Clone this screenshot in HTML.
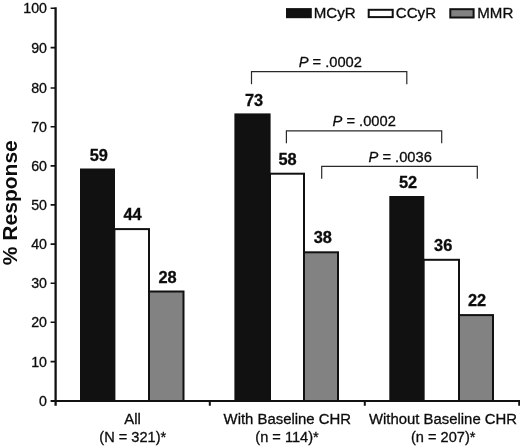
<!DOCTYPE html>
<html><head><meta charset="utf-8">
<style>
html,body{margin:0;padding:0;background:#fff;}
svg{display:block;filter:grayscale(1);}
text{font-family:"Liberation Sans",sans-serif;fill:#0c0c0c;stroke:#0c0c0c;stroke-width:0.3px;}
.t{font-size:14.2px;}
.x{font-size:14.9px;}
.l{font-size:15.1px;}
.b{font-size:16.4px;font-weight:bold;stroke-width:0.1px;}
.p{font-size:14.7px;}
</style></head><body>
<svg width="520" height="447" viewBox="0 0 520 447">
<rect width="520" height="447" fill="#fff"/>
<!-- bars -->
<g stroke="#111" stroke-width="2">
<rect x="114.400" y="229.100" width="34.600" height="171.9" fill="#fff"/>
<rect x="149" y="291.500" width="34.500" height="109.5" fill="#828282"/>
<rect x="81" y="169.500" width="33" height="231.5" fill="#111"/>
<rect x="270" y="173.700" width="34" height="227.3" fill="#fff"/>
<rect x="304" y="252.300" width="34" height="148.7" fill="#828282"/>
<rect x="235.400" y="114.400" width="34.200" height="286.6" fill="#111"/>
<rect x="423.500" y="259.800" width="35.500" height="141.2" fill="#fff"/>
<rect x="459" y="315.100" width="34" height="85.9" fill="#828282"/>
<rect x="390.300" y="197" width="33" height="204.0" fill="#111"/>
</g>
<!-- axes -->
<g stroke="#111" fill="none">
<path d="M55.600 7.200V405.800" stroke-width="2.300"/>
<path d="M50.600 401H520" stroke-width="2.100"/>
</g>
<g stroke="#111" stroke-width="1.600" fill="none">
<path d="M50.600 8.300H55M50.600 47.600H55M50.600 88H55M50.600 126.800H55M50.600 165.900H55M50.600 204.900H55M50.600 244.100H55M50.600 283.200H55M50.600 322.200H55M50.600 361.600H55"/>
<path d="M209.800 401V405.800M364.800 401V405.800M519.200 401V405.800" stroke-width="2"/>
</g>
<!-- y labels -->
<g class="t" text-anchor="end">
<text x="47" y="13.200">100</text>
<text x="47" y="52.500">90</text>
<text x="47" y="93">80</text>
<text x="47" y="131.800">70</text>
<text x="47" y="170.900">60</text>
<text x="47" y="209.900">50</text>
<text x="47" y="249.100">40</text>
<text x="47" y="288.200">30</text>
<text x="47" y="327.200">20</text>
<text x="47" y="366.600">10</text>
<text x="47" y="406">0</text>
</g>
<text transform="translate(16.900,202.700) rotate(-90)" text-anchor="middle" style="font-size:21px;font-weight:bold;stroke-width:0">% Response</text>
<!-- bar labels -->
<g class="b" text-anchor="middle">
<text x="98.800" y="161.200">59</text>
<text x="132.500" y="220.300">44</text>
<text x="167.600" y="283.200">28</text>
<text x="254.100" y="105.800">73</text>
<text x="287.600" y="165.200">58</text>
<text x="322.800" y="242.700">38</text>
<text x="408.100" y="188.100">52</text>
<text x="443.200" y="251">36</text>
<text x="477" y="306">22</text>
</g>
<!-- brackets -->
<g stroke="#2a2a2a" stroke-width="1.200" fill="none">
<path d="M251.500 84.300V71.600H406.800V84.300"/>
<path d="M286.400 143.300V130.800H441.700V143.300"/>
<path d="M321.700 178.700V166.300H477.300V178.700"/>
</g>
<g class="p" text-anchor="middle">
<text x="330.300" y="67.100"><tspan font-style="italic">P</tspan> = .0002</text>
<text x="364.200" y="126.100"><tspan font-style="italic">P</tspan> = .0002</text>
<text x="400.200" y="162.300"><tspan font-style="italic">P</tspan> = .0036</text>
</g>
<!-- legend -->
<g stroke="#111" stroke-width="2">
<rect x="287" y="9.100" width="23.800" height="8.100" fill="#111"/>
<rect x="368.700" y="9.800" width="24" height="7.300" fill="#fff"/>
<rect x="450.300" y="9.200" width="23.300" height="8.300" fill="#828282"/>
</g>
<g class="l">
<text x="313.800" y="18.400">MCyR</text>
<text x="395.800" y="18.400">CCyR</text>
<text x="477.300" y="18.400">MMR</text>
</g>
<!-- x labels -->
<g class="x" text-anchor="middle">
<text x="132.500" y="423.500">All</text>
<text x="132.800" y="441.800" style="font-size:14.6px">(N = 321)*</text>
<text x="287.300" y="423.500">With Baseline CHR</text>
<text x="287" y="442" style="font-size:14.6px">(n = 114)*</text>
<text x="443" y="423.500">Without Baseline CHR</text>
<text x="443.200" y="442" style="font-size:14.6px">(n = 207)*</text>
</g>
</svg>
</body></html>
